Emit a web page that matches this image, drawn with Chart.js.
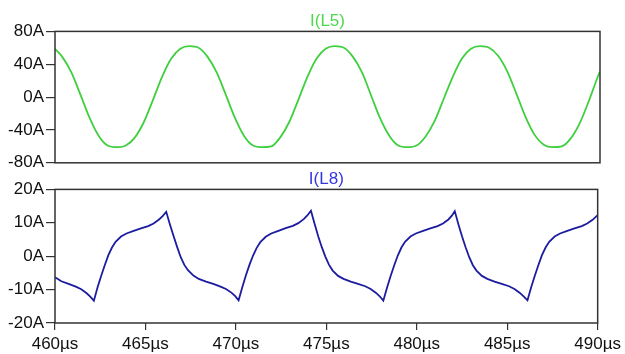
<!DOCTYPE html>
<html>
<head>
<meta charset="utf-8">
<script src="https://cdn.jsdelivr.net/npm/chart.js@4/dist/chart.umd.min.js"></script>
<style>
  body { margin: 0; background: #fff; }
  #wrap { position: relative; width: 625px; height: 354px; overflow: hidden; }
  #topPane { position: absolute; left: 0; top: 0; }
  #botPane { position: absolute; left: 0; top: 168px; }
</style>
</head>
<body>
<div id="wrap">
  <canvas id="topPane" width="625" height="175"></canvas>
  <canvas id="botPane" width="625" height="186"></canvas>
</div>
<script>
// time axis (µs)
let timeTicks = [460, 465, 470, 475, 480, 485, 490];
let l5Ticks = [-80, -40, 0, 40, 80];
let l8Ticks = [-20, -10, 0, 10, 20];

// I(L5)
let l5Time = [460.0, 460.4, 460.9, 461.4, 461.9, 462.4, 462.9, 463.4, 463.9, 464.4, 464.9, 465.4, 465.9, 466.4, 466.9,
  467.4, 467.9, 468.4, 468.9, 469.4, 469.9, 470.4, 470.9, 471.4, 471.9, 472.4, 472.9, 473.4, 473.9, 474.4, 474.9,
  475.4, 475.9, 476.4, 476.9, 477.4, 477.9, 478.4, 478.9, 479.4, 479.9, 480.4, 480.9, 481.4, 481.9, 482.4, 482.9,
  483.4, 483.9, 484.4, 484.9, 485.4, 485.9, 486.4, 486.9, 487.4, 487.9, 488.4, 488.9, 489.4, 489.9, 490.0];
let l5Current = [58.6, 49, 30, 3, -25, -47, -59, -61, -59, -49, -30, -3, 25, 47, 59,
  62, 60, 49, 30, 3, -25, -47, -59, -61, -60, -49, -30, -3, 25, 47, 59,
  62, 60, 49, 30, 2, -26, -47, -59, -61, -59, -48, -29, -2, 25, 47, 59,
  62, 60, 50, 31, 4, -24, -46, -58, -61, -60, -50, -31, -4, 26, 31];

// I(L8)
let l8Time = [460.00, 460.35, 460.75, 461.15, 461.45, 461.75, 461.95,
  462.15, 462.35, 462.55, 462.75, 462.95, 463.15, 463.35, 463.65, 463.95, 464.35, 464.75, 465.15, 465.45, 465.75, 465.95,
  466.15, 466.35, 466.55, 466.75, 466.95, 467.15, 467.35, 467.65, 467.95, 468.35, 468.75, 469.15, 469.45, 469.75, 469.95,
  470.15, 470.35, 470.55, 470.75, 470.95, 471.15, 471.35, 471.65, 471.95, 472.35, 472.75, 473.15, 473.45, 473.75, 473.95,
  474.15, 474.35, 474.55, 474.75, 474.95, 475.15, 475.35, 475.65, 475.95, 476.35, 476.75, 477.15, 477.45, 477.75, 477.95,
  478.15, 478.35, 478.55, 478.75, 478.95, 479.15, 479.35, 479.65, 479.95, 480.35, 480.75, 481.15, 481.45, 481.75, 481.95,
  482.10, 482.30, 482.50, 482.70, 482.90, 483.10, 483.30, 483.60, 483.90, 484.30, 484.70, 485.10, 485.40, 485.70, 485.92,
  486.12, 486.32, 486.52, 486.72, 486.92, 487.12, 487.32, 487.62, 487.92, 488.32, 488.72, 489.12, 489.42, 489.72, 490.00];
let l8Current = [-6.3, -7.5, -8.3, -9.1, -9.9, -11.1, -12.1,
  -13.3, -9.4, -5.9, -2.7, 0.3, 2.6, 4.3, 5.9, 6.8, 7.6, 8.3, 9.0, 9.8, 11.0, 12.0,
  13.3, 9.6, 6.1, 2.8, -0.3, -2.6, -4.2, -5.8, -6.8, -7.6, -8.3, -9.1, -9.8, -10.9, -11.9,
  -13.2, -9.4, -5.8, -2.6, 0.2, 2.5, 4.2, 5.8, 6.8, 7.6, 8.4, 9.1, 9.9, 11.1, 12.2,
  13.6, 9.7, 6.0, 2.7, -0.2, -2.6, -4.3, -5.9, -6.8, -7.6, -8.3, -9.0, -9.8, -11.0, -12.0,
  -13.3, -9.5, -6.0, -2.8, 0.2, 2.6, 4.3, 5.9, 6.8, 7.6, 8.3, 9.0, 9.8, 11.0, 12.2,
  13.5, 9.6, 6.0, 2.7, -0.3, -2.7, -4.3, -5.9, -6.8, -7.6, -8.3, -9.0, -9.8, -11.0, -12.1,
  -13.2, -9.4, -5.9, -2.7, 0.3, 2.6, 4.3, 5.9, 6.8, 7.6, 8.3, 9.0, 9.8, 10.9, 12.3];

const FONT = { family: '"Liberation Sans", Arial, sans-serif', size: 17 };
const INK = '#111';
const FRAME = '#333';

// box around the plot area, like the scope view
const framePlugin = {
    id: 'frame',
    afterDraw(chart) {
        let a = chart.chartArea, ctx = chart.ctx;
        ctx.save();
        ctx.strokeStyle = FRAME;
        ctx.lineWidth = 1.5;
        ctx.strokeRect(a.left, a.top, a.right - a.left, a.bottom - a.top);
        ctx.restore();
    }
};

function pts(xs, ys) {
    return xs.map((x, i) => ({ x: x, y: ys[i] }));
}

function yAxis(ticks) {
    return {
        min: ticks[0],
        max: ticks[ticks.length - 1],
        afterBuildTicks: s => { s.ticks = ticks.map(v => ({ value: v })); },
        afterFit: s => { s.width = 55; },
        border: { display: false },
        grid: { drawOnChartArea: false, drawTicks: true, tickLength: 9, color: FRAME, lineWidth: 1.2 },
        ticks: { color: INK, font: FONT, padding: 2, callback: v => v + 'A' }
    };
}

function xAxis(show) {
    let ax = {
        type: 'linear',
        min: timeTicks[0],
        max: timeTicks[timeTicks.length - 1],
        display: show,
        afterBuildTicks: s => { s.ticks = timeTicks.map(v => ({ value: v })); },
        border: { display: false },
        grid: { drawOnChartArea: false, drawTicks: true, tickLength: 7, color: FRAME, lineWidth: 1.2 },
        ticks: { color: INK, font: FONT, padding: 4, maxRotation: 0, callback: v => v + 'µs' }
    };
    if (show) ax.afterFit = s => { s.height = 31; };
    return ax;
}

function makePane(id, label, xs, ys, lineColor, titleColor, yt, showX, pad, titlePad, tension) {
    return new Chart(document.getElementById(id), {
        type: 'line',
        data: {
            datasets: [{
                label: label,
                data: pts(xs, ys),
                borderColor: lineColor,
                borderWidth: 1.8,
                pointRadius: 0,
                fill: false,
                tension: tension,
                cubicInterpolationMode: tension ? 'monotone' : 'default'
            }]
        },
        options: {
            responsive: false,
            animation: false,
            layout: { padding: pad },
            plugins: {
                legend: { display: false },
                tooltip: { enabled: false },
                title: {
                    display: true,
                    text: label,
                    color: titleColor,
                    fullSize: false,
                    font: { family: FONT.family, size: 17, weight: 'normal' },
                    padding: titlePad
                }
            },
            scales: { x: xAxis(showX), y: yAxis(yt) }
        },
        plugins: [framePlugin]
    });
}

makePane('topPane', 'I(L5)', l5Time, l5Current, '#3fcf3f', '#4cd94c', l5Ticks, false,
    { left: 0, right: 25, top: 0, bottom: 12 }, { top: 11, bottom: 0 }, 0.4);
makePane('botPane', 'I(L8)', l8Time, l8Current, '#1c1ca0', '#3535e0', l8Ticks, true,
    { left: 0, right: 25, top: 0, bottom: 0 }, { top: 1, bottom: 0 }, 0);
</script>
</body>
</html>
